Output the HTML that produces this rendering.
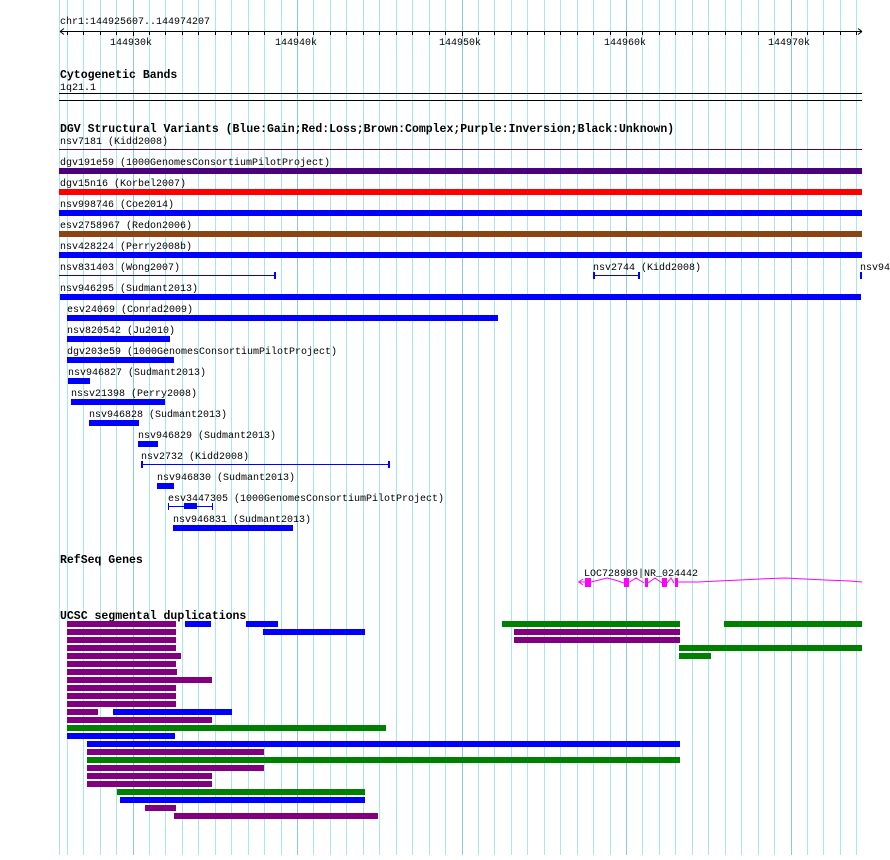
<!DOCTYPE html>
<html><head><meta charset="utf-8"><style>
html,body{margin:0;padding:0;background:#fff;}
svg text{font-family:"Liberation Mono","DejaVu Sans Mono",monospace;font-size:10px;fill:#000;}
svg text.b{font-weight:bold;font-size:11.5px;}
</style></head><body>
<svg width="890" height="855" xmlns="http://www.w3.org/2000/svg" shape-rendering="crispEdges">
<rect width="890" height="855" fill="#fff"/>
<g id="grid"></g>
<line x1="59.5" y1="0" x2="59.5" y2="855" stroke="#a8e6ee"/>
<!-- ruler -->
<text x="60" y="24">chr1:144925607..144974207</text>
<line x1="60" y1="31.5" x2="862" y2="31.5" stroke="#000"/>
<path d="M60,31.5 l4,-3 M60,31.5 l4,3 M862,31.5 l-4,-3 M862,31.5 l-4,3" stroke="#000" fill="none" shape-rendering="auto"/>
<g id="ticks"></g>
<text x="110" y="45">144930k</text>
<text x="275" y="45">144940k</text>
<text x="439" y="45">144950k</text>
<text x="604" y="45">144960k</text>
<text x="768" y="45">144970k</text>
<!-- cytoband -->
<text class="b" x="60" y="78">Cytogenetic Bands</text>
<text x="60" y="90">1q21.1</text>
<rect x="59" y="93" width="803" height="1" fill="#000"/>
<rect x="59" y="100" width="803" height="1" fill="#000"/>
<!-- DGV -->
<text class="b" x="60" y="132">DGV Structural Variants (Blue:Gain;Red:Loss;Brown:Complex;Purple:Inversion;Black:Unknown)</text>
<text x="60" y="144">nsv7181 (Kidd2008)</text>
<rect x="59" y="149" width="803" height="1" fill="#4b0082"/>
<text x="60" y="165">dgv191e59 (1000GenomesConsortiumPilotProject)</text>
<rect x="59" y="168" width="803" height="6" fill="#4b0082"/>
<text x="60" y="186">dgv15n16 (Korbel2007)</text>
<rect x="59" y="189" width="803" height="6" fill="#ff0000"/>
<text x="60" y="207">nsv998746 (Coe2014)</text>
<rect x="59" y="210" width="803" height="6" fill="#0000ff"/>
<text x="60" y="228">esv2758967 (Redon2006)</text>
<rect x="59" y="231" width="803" height="6" fill="#8b4513"/>
<text x="60" y="249">nsv428224 (Perry2008b)</text>
<rect x="59" y="252" width="803" height="6" fill="#0000ff"/>
<text x="60" y="270">nsv831403 (Wong2007)</text>
<rect x="59" y="275" width="216" height="1" fill="#0000ff"/>
<rect x="274" y="272" width="2" height="7" fill="#0000ff"/>
<text x="593" y="270">nsv2744 (Kidd2008)</text>
<rect x="594" y="275" width="45" height="1" fill="#0000ff"/>
<rect x="593" y="272" width="2" height="7" fill="#0000ff"/>
<rect x="638" y="272" width="2" height="7" fill="#0000ff"/>
<text x="860" y="270">nsv94</text>
<rect x="860" y="272" width="2" height="7" fill="#0000ff"/>
<text x="60" y="291">nsv946295 (Sudmant2013)</text>
<rect x="60" y="294" width="801" height="6" fill="#0000ff"/>
<text x="67" y="312">esv24069 (Conrad2009)</text>
<rect x="67" y="315" width="431" height="6" fill="#0000ff"/>
<text x="67" y="333">nsv820542 (Ju2010)</text>
<rect x="67" y="336" width="103" height="6" fill="#0000ff"/>
<text x="67" y="354">dgv203e59 (1000GenomesConsortiumPilotProject)</text>
<rect x="67" y="357" width="107" height="6" fill="#0000ff"/>
<text x="68" y="375">nsv946827 (Sudmant2013)</text>
<rect x="68" y="378" width="22" height="6" fill="#0000ff"/>
<text x="71" y="396">nssv21398 (Perry2008)</text>
<rect x="71" y="399" width="94" height="6" fill="#0000ff"/>
<text x="89" y="417">nsv946828 (Sudmant2013)</text>
<rect x="89" y="420" width="50" height="6" fill="#0000ff"/>
<text x="138" y="438">nsv946829 (Sudmant2013)</text>
<rect x="138" y="441" width="20" height="6" fill="#0000ff"/>
<text x="141" y="459">nsv2732 (Kidd2008)</text>
<rect x="141" y="464" width="248" height="1" fill="#0000ff"/>
<rect x="141" y="461" width="2" height="7" fill="#0000ff"/>
<rect x="388" y="461" width="2" height="7" fill="#0000ff"/>
<text x="157" y="480">nsv946830 (Sudmant2013)</text>
<rect x="157" y="483" width="17" height="6" fill="#0000ff"/>
<text x="168" y="501">esv3447305 (1000GenomesConsortiumPilotProject)</text>
<rect x="168" y="506" width="45" height="1" fill="#0000ff"/>
<rect x="168" y="503" width="1" height="7" fill="#0000ff"/>
<rect x="212" y="503" width="1" height="7" fill="#0000ff"/>
<rect x="184" y="503" width="13" height="6" fill="#0000ff"/>
<text x="173" y="522">nsv946831 (Sudmant2013)</text>
<rect x="173" y="525" width="120" height="6" fill="#0000ff"/>
<!-- RefSeq -->
<text class="b" x="60" y="563">RefSeq Genes</text>
<text x="584" y="576">LOC728989|NR_024442</text>
<g fill="none" stroke="#ff00ff" stroke-width="1" shape-rendering="auto">
<path d="M578,582 h7 M591,582 l8,-2 l8,-2 l8,2 l9,3 M628,583 l8,-5 l8,5 M648,583 l7,-5 l7,5 M667,583 l4,-5 l3,5 M678,582 h20 l20,-1 l22,-1 l20,-1 l25,-1 l20,1 l20,1 l25,1 l12,1"/>
<path d="M583,579 l-4,3 l4,3"/>
</g>
<g fill="#ff00ff">
<rect x="585" y="578" width="6" height="9"/>
<rect x="624" y="578" width="5" height="9"/>
<rect x="645" y="578" width="3" height="9"/>
<rect x="662" y="578" width="5" height="9"/>
<rect x="675" y="578" width="3" height="9"/>
</g>
<!-- UCSC -->
<text class="b" x="60" y="619">UCSC segmental duplications</text>
<g id="sd"></g>
</svg>
<script>
(function(){
var ns="http://www.w3.org/2000/svg";
var g=document.getElementById('grid'),t=document.getElementById('ticks');
for(var k=-4;k<=44;k++){
 var x=Math.round(132.5+16.45*k)+0.5;
 var l=document.createElementNS(ns,'line');
 l.setAttribute('x1',x);l.setAttribute('x2',x);l.setAttribute('y1',0);l.setAttribute('y2',855);
 l.setAttribute('stroke',(k%10==0)?'#88c8e6':'#a8e6ee');g.appendChild(l);
 var m=document.createElementNS(ns,'line');
 m.setAttribute('x1',x);m.setAttribute('x2',x);m.setAttribute('y1',31);m.setAttribute('y2',(k%10==0)?36:35);
 m.setAttribute('stroke','#000');t.appendChild(m);
}
var P='#800080',B='#0000ff',G='#008000';
var rows=[
[[P,67,176],[B,185,211],[B,246,278],[G,502,680],[G,724,862]],
[[P,67,176],[B,263,365],[P,514,680]],
[[P,67,176],[P,514,680]],
[[P,67,176],[G,679,862]],
[[P,67,181],[G,679,711]],
[[P,67,176]],[[P,67,177]],[[P,67,212]],[[P,67,176]],[[P,67,176]],[[P,67,176]],
[[P,67,98],[B,113,232]],
[[P,67,212]],[[G,67,386]],[[B,67,175]],[[B,87,862]],[[P,87,264]],[[G,87,862]],
[[P,87,264]],[[P,87,212]],[[P,87,212]],[[G,117,365]],[[B,120,365]],[[P,145,176]],[[P,174,378]]
];
// rows 15 and 17 end at 680 actually
rows[15][0][2]=680;rows[17][0][2]=680;
var s=document.getElementById('sd');
rows.forEach(function(r,i){r.forEach(function(b){
 var e=document.createElementNS(ns,'rect');
 e.setAttribute('x',b[1]);e.setAttribute('y',621+8*i);e.setAttribute('width',b[2]-b[1]);e.setAttribute('height',6);e.setAttribute('fill',b[0]);s.appendChild(e);
});});
})();
</script>
</body></html>
